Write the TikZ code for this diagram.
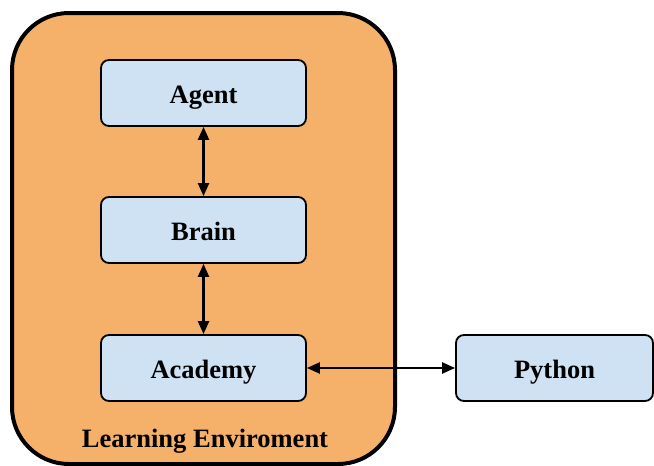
\documentclass[tikz,border=0pt]{standalone}
\usepackage{fontspec}
\setmainfont{Liberation Serif}
\usetikzlibrary{arrows.meta}
\definecolor{envorange}{HTML}{F5B06A}
\definecolor{boxblue}{HTML}{CFE2F3}
\tikzset{
  blockbox/.style={draw=black, line width=1.8pt, fill=boxblue, rounded corners=8pt,
    minimum width=205pt, minimum height=66pt, inner sep=0pt,
    text height=20pt, text depth=0pt,
    font=\fontsize{26.5}{30}\selectfont\bfseries},
  envbox/.style={draw=black, line width=4pt, fill=envorange, rounded corners=57pt},
  link/.style={line width=2.2pt, {Triangle[length=13pt,width=11pt]}-{Triangle[length=13pt,width=11pt]}}
}
\begin{document}
\begin{tikzpicture}[x=1pt,y=-1pt]
\useasboundingbox (0,0) rectangle (654,466);
\node[envbox, minimum width=383pt, minimum height=451pt, inner sep=0pt] (env) at (203.5,238.5) {};
\node[blockbox] (agent) at (203.5,93) {Agent};
\node[blockbox] (brain) at (203.5,230) {Brain};
\node[blockbox] (academy) at (203.5,368) {Academy};
\node[blockbox, minimum width=197pt] (python) at (554.5,368) {Python};
\node[font=\fontsize{26.5}{30}\selectfont\bfseries, text height=20pt, text depth=0pt] (label) at (205,437) {Learning Enviroment};
\draw[link] (agent) -- (brain);
\draw[link] (brain) -- (academy);
\draw[link] (academy) -- (python);
\end{tikzpicture}
\end{document}
